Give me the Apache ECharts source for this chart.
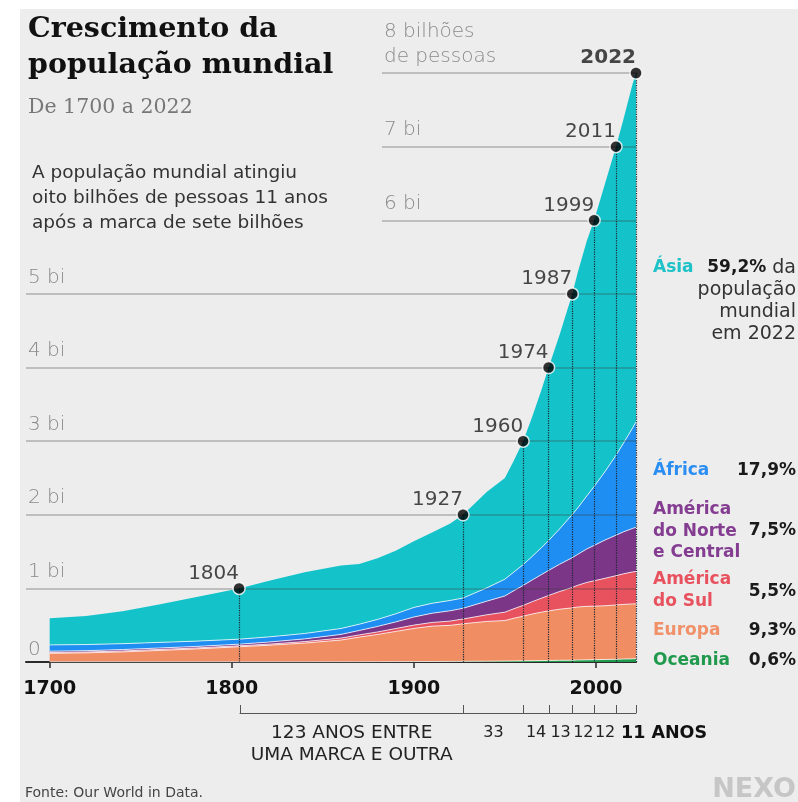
<!DOCTYPE html>
<html><head><meta charset="utf-8">
<script src="https://cdn.jsdelivr.net/npm/echarts@6/dist/echarts.min.js"></script>
<style>html,body{margin:0;padding:0;background:#fff}#c{width:798px;height:802px}</style>
</head><body><div id="c"></div>
<script>
// ---- data (billions) ----
const years    = [1700,1720,1740,1760,1780,1804,1820,1840,1860,1870,1880,1890,1900,1910,1920,1927,1940,1950,1955,1960,1965,1970,1974,1980,1987,1990,1995,1999,2005,2011,2015,2020,2022];
const oceania  = [0.002,0.002,0.002,0.002,0.002,0.002,0.002,0.002,0.003,0.003,0.004,0.005,0.006,0.007,0.008,0.009,0.011,0.013,0.0145,0.016,0.018,0.0195,0.021,0.023,0.025,0.027,0.029,0.031,0.034,0.037,0.040,0.043,0.045];
const europe   = [0.115,0.122,0.135,0.155,0.175,0.205,0.225,0.255,0.295,0.335,0.37,0.41,0.45,0.48,0.49,0.51,0.54,0.55,0.58,0.606,0.634,0.657,0.673,0.694,0.71,0.72,0.727,0.727,0.73,0.737,0.742,0.746,0.745];
const southAm  = [0.012,0.012,0.013,0.013,0.013,0.013,0.015,0.02,0.027,0.03,0.034,0.039,0.045,0.05,0.058,0.065,0.09,0.114,0.13,0.147,0.167,0.19,0.21,0.24,0.277,0.295,0.325,0.345,0.373,0.398,0.415,0.434,0.44];
const northAm  = [0.018,0.018,0.019,0.02,0.021,0.022,0.028,0.037,0.05,0.06,0.075,0.09,0.11,0.125,0.14,0.145,0.185,0.22,0.245,0.27,0.295,0.32,0.34,0.37,0.405,0.42,0.455,0.48,0.52,0.55,0.57,0.59,0.60];
const africa   = [0.085,0.083,0.08,0.076,0.072,0.068,0.07,0.073,0.08,0.085,0.095,0.11,0.13,0.135,0.14,0.14,0.18,0.228,0.254,0.283,0.32,0.365,0.405,0.48,0.585,0.63,0.72,0.80,0.93,1.085,1.2,1.36,1.43];
const asia     = [0.362,0.388,0.441,0.514,0.597,0.69,0.76,0.833,0.855,0.817,0.832,0.856,0.899,0.963,1.044,1.131,1.304,1.375,1.5165,1.678,1.896,2.1385,2.351,2.633,2.998,3.198,3.464,3.617,3.913,4.193,4.393,4.667,4.74];

const milestoneYears  = [1804,1927,1960,1974,1987,1999,2011,2022];
const milestoneValues = [1,2,3,4,5,6,7,8];
const gapLabels = ['123 ANOS ENTRE\nUMA MARCA E OUTRA','33','14','13','12','12','11 ANOS'];

const gridValues = [0,1,2,3,4,5,6,7,8];
const gridLabels = ['0','1 bi','2 bi','3 bi','4 bi','5 bi','6 bi','7 bi','8 bilhões\nde pessoas'];
const xTicks = [1700,1800,1900,2000];

const regionNames  = ['Oceania','Europa','América\ndo Sul','América\ndo Norte\ne Central','África','Ásia'];
const regionShares = ['0,6%','9,3%','5,5%','7,5%','17,9%','59,2%'];

// ---- styles ----
const F = '"DejaVu Sans", sans-serif';
const fills  = ['#1f9a4c','#f08d62','#e8525f','#7c3688','#1e8ef2','#14c3ca'];
const tcolor = ['#1f9a4c','#f0916a','#e8525f','#843d91','#2a8ef2','#1cc2c8'];
const seriesData = [oceania,europe,southAm,northAm,africa,asia];

const xMin = 1687, xMax = 2022, gridStartHigh = 1882.5;

// value first, year second, so that the stack runs on the population dimension
const areaSeries = seriesData.map((arr,i)=>({
  type:'line', name: 'r'+i, stack:'total', z:2,
  showSymbol:false,
  encode:{x:1, y:0},
  lineStyle:{color: i===5 ? 'rgba(0,0,0,0)' : 'rgba(255,255,255,0.75)', width: i===5?0:1},
  areaStyle:{color: fills[i], opacity:1},
  data: years.map((y,k)=>[arr[k], y])
}));

const gridLineData = gridValues.map((v,i)=>[
  {coord:[v>=6 ? gridStartHigh : xMin, v],
   lineStyle: v===0 ? {color:'rgba(0,0,0,0)'} : undefined,
   label: v===0 ? {formatter: gridLabels[i], distance:[2,0]} : {formatter: gridLabels[i]}},
  {coord:[xMax, v]}
]);
const dotLineData = milestoneYears.map((y,i)=>[{coord:[y, milestoneValues[i]]},{coord:[y,0]}]);

const gapMids = milestoneYears.slice(0,-1).map((y,i)=>(y+milestoneYears[i+1])/2);
const gapLabelValues = gapMids.concat([2021]); // trailing empty slot, hidden as the max label

const graphics = [
  {type:'rect', left:0, top:0, shape:{width:20,height:802}, style:{fill:'#fff'}, z:100},
  {type:'rect', left:0, top:0, shape:{width:798,height:9}, style:{fill:'#fff'}, z:100},
  {type:'text', x:28, y:12, style:{text:'Crescimento da\npopulação mundial', font:'bold 28.5px "DejaVu Serif"', fill:'#111', lineHeight:36, verticalAlign:'top'}},
  {type:'text', x:28, y:108, style:{text:'De 1700 a 2022', font:'20.5px "DejaVu Serif"', fill:'#777', verticalAlign:'middle'}},
  {type:'text', x:32, y:161, style:{text:'A população mundial atingiu\noito bilhões de pessoas 11 anos\napós a marca de sete bilhões', font:'18.5px '+F, fill:'#333', lineHeight:25, verticalAlign:'top'}},
  {type:'text', x:25, y:793, style:{text:'Fonte: Our World in Data.', font:'14px '+F, fill:'#444', verticalAlign:'middle'}},
  {type:'text', x:796, y:790, style:{text:'NEXO', font:'bold 27px "DejaVu Sans"', fill:'#c6c6c6', align:'right', verticalAlign:'middle'}}
];
const nameY  = [661, 631, 580, 510, 471, 268];
const shareY = [661, 631, 592, 531, 471, 268];
regionNames.forEach((n,i)=>{
  graphics.push({type:'text', x:653, y:nameY[i]-11, style:{text:n, font:'bold 17px '+F, fill:tcolor[i], lineHeight:21.5, verticalAlign:'top'}});
  if(i<5){
    graphics.push({type:'text', x:796, y:shareY[i], style:{text:regionShares[i], font:'bold 17px '+F, fill:'#1a1a1a', align:'right', verticalAlign:'middle'}});
  } else {
    graphics.push({type:'text', x:796, y:shareY[i]-11, style:{text:'{b|'+regionShares[i]+'} da\npopulação\nmundial\nem 2022', font:'19px '+F, fill:'#333', align:'right', verticalAlign:'top', lineHeight:22,
      rich:{b:{font:'bold 17px '+F, fill:'#1a1a1a', lineHeight:22}}}});
  }
});

const chart = echarts.init(document.getElementById('c'), null, {renderer:'canvas'});
chart.setOption({
  backgroundColor:'#ededed',
  animation:false,
  grid:[
    {left:26, right:162, top:73, bottom:140},
    {left:240, right:162, top:700, height:13}
  ],
  xAxis:[
    {type:'value', gridIndex:0, min:xMin, max:xMax,
     axisLine:{show:true, onZero:false, lineStyle:{color:'#2b2b2b', width:2}},
     axisTick:{show:true, customValues:xTicks, length:6, lineStyle:{color:'#2b2b2b', width:1.5}},
     axisLabel:{show:true, customValues:xTicks, margin:18, fontFamily:F, fontSize:19, fontWeight:'bold', color:'#111', formatter:(v)=>String(v)},
     splitLine:{show:false}},
    {type:'value', gridIndex:1, min:1804, max:2022, position:'bottom',
     axisLine:{show:true, lineStyle:{color:'#555', width:1}},
     axisTick:{show:true, inside:true, customValues:milestoneYears, length:8, lineStyle:{color:'#555', width:1}},
     axisLabel:{show:true, customValues:gapLabelValues, showMinLabel:true, showMaxLabel:false, hideOverlap:false, margin:9, fontFamily:F, fontSize:18.5, color:'#222', lineHeight:22,
       formatter:(v)=>{ const k = gapMids.findIndex(m=>Math.abs(m-v)<0.01); if(k<0) return ''; const s = gapLabels[k];
         if(k===gapLabels.length-1) return '{b|'+s+'}';
         if(k>0) return '{n|'+s+'}';
         return s; },
       rich:{b:{fontFamily:F, fontSize:17.5, fontWeight:'bold', color:'#111', padding:[0,0,0,76]},
             n:{fontFamily:F, fontSize:16, color:'#222'}}},
     splitLine:{show:false}}
  ],
  yAxis:[
    {type:'value', gridIndex:0, min:0, max:8, show:false, splitLine:{show:false}},
    {type:'value', gridIndex:1, show:false}
  ],
  series: areaSeries.concat([
    {type:'line', data:[], z:3, silent:true,
     markLine:{silent:true, symbol:['none','none'], animation:false,
       lineStyle:{color:'rgba(60,60,60,0.35)', width:1.5, type:'solid'},
       label:{show:true, position:'insideStartTop', distance:[2,4], fontFamily:F, fontSize:20, fontWeight:200, color:'#8a8a8a', lineHeight:25},
       data: gridLineData}},
    {type:'line', data:[], z:3, silent:true,
     markLine:{silent:true, symbol:['none','none'], animation:false,
       lineStyle:{color:'#1d2733', width:1.2, type:'dotted'},
       label:{show:false},
       data: dotLineData}},
    {type:'scatter', z:5, silent:true, symbolSize:12,
     itemStyle:{color:'#000', borderColor:'#fff', borderWidth:1.5},
     label:{show:true, position:'top', align:'right', distance:-2, fontFamily:F, fontSize:20, color:'#1a1a1a',
       formatter:(p)=>String(p.value[0])},
     data: milestoneYears.map((y,i)=>({value:[y, milestoneValues[i]], label: i===milestoneYears.length-1 ? {fontWeight:'bold'} : {}}))}
  ]),
  graphic: graphics
});
</script></body></html>
